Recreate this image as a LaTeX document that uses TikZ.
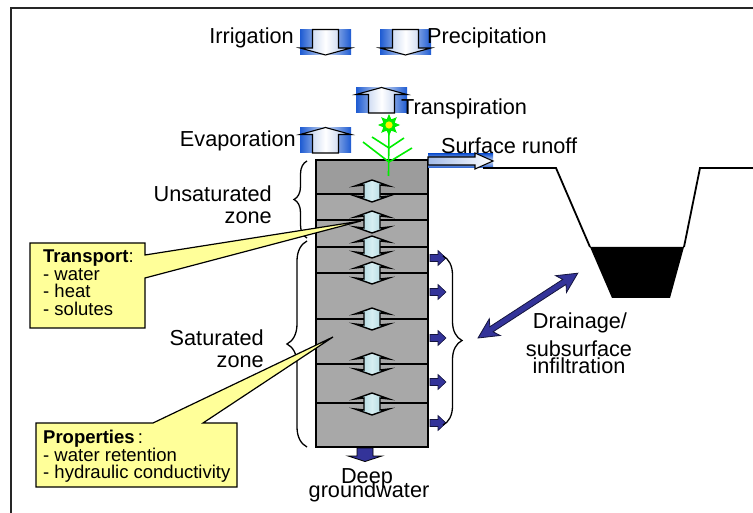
\documentclass[tikz,border=0pt]{standalone}
\usepackage{fontspec}
\setmainfont{Liberation Sans}
\usetikzlibrary{shapes.geometric,decorations.pathreplacing,calc}

\definecolor{fluxblue}{HTML}{1E5BD2}
\definecolor{fluxpale}{HTML}{D4E0F4}
\definecolor{fluxmid}{HTML}{A4BCE8}
\definecolor{soilgrey}{HTML}{A8A8A8}
\definecolor{soiltop}{HTML}{9C9C9C}
\definecolor{poremid}{HTML}{9CCCD6}
\definecolor{porelight}{HTML}{D6EEF2}
\definecolor{navyflow}{HTML}{333399}
\definecolor{notefill}{HTML}{FFFF99}
\definecolor{plantgreen}{HTML}{00EE00}

\tikzset{
  lbl/.style={font=\fontsize{21.7}{22}\selectfont, inner sep=0pt},
  note/.style={font=\fontsize{18.5}{17.5}\selectfont, align=left, inner sep=0pt, anchor=north west},
  callout/.style={draw=black, line width=1.2pt, fill=notefill, line join=miter},
  bracestyle/.style={draw=black, line width=1.3pt},
  % blue boxed block arrow pointing down
  pics/downflux/.style={code={
    \fill[left color=fluxblue, right color=fluxblue, middle color=fluxpale]
      (-25.5,-12.5) rectangle (25.5,12.5);
    \draw[line width=1.1pt, line join=miter, left color=fluxmid, right color=fluxmid, middle color=white]
      (-13,-12.5) -- (-13,6) -- (-25.5,6) -- (0,13) -- (25.5,6) -- (13,6) -- (13,-12.5) -- cycle;
  }},
  % blue boxed block arrow pointing up
  pics/upflux/.style={code={
    \fill[left color=fluxblue, right color=fluxblue, middle color=fluxpale]
      (-25.5,-12.5) rectangle (25.5,12.5);
    \draw[line width=1.1pt, line join=miter, left color=fluxmid, right color=fluxmid, middle color=white]
      (-13,12.5) -- (-13,-6) -- (-25.5,-6) -- (0,-13) -- (25.5,-6) -- (13,-6) -- (13,12.5) -- cycle;
  }},
  % vertical exchange between soil layers
  pics/poreflux/.style={code={
    \draw[line width=1.4pt, line join=miter, left color=poremid, right color=poremid, middle color=porelight]
      (0,-11) -- (17,-5) -- (8,-6) -- (8,6) -- (17,5) -- (0,11) -- (-17,5) -- (-8,6) -- (-8,-6) -- (-17,-5) -- cycle;
  }},
  % lateral outflow from a layer
  pics/seep/.style={code={
    \draw[fill=navyflow, line width=0.6pt, draw=black!60!navyflow, line join=miter]
      (0,-3.5) -- (8,-3.5) -- (8,-7.5) -- (16,0) -- (8,7.5) -- (8,3.5) -- (0,3.5) -- cycle;
  }},
}

\begin{document}
\begin{tikzpicture}[x=1pt, y=-1pt]
\useasboundingbox (0,0) rectangle (753,513);

% frame
\draw[line width=1.6pt, black!85] (11,513) -- (11,8) -- (753,8);

% soil column with layers
\node[draw, line width=1.2pt, fill=soilgrey, minimum width=112pt, minimum height=287pt, inner sep=0pt]
  (column) at (372,303.5) {};
\fill[soiltop] (316,160) rectangle (428,194);
\draw[line width=1.2pt] (316,160) rectangle (428,447);
\foreach \ly in {194,220,247,273,319,364,403}
  \draw[line width=1.1pt] (316,\ly) -- (428,\ly);

% exchange arrows between layers
\foreach \ay in {191,222,247,273,319,364,404}
  \pic at (372,\ay) {poreflux};

% lateral outflows
\foreach \sy in {258,292,338,382,423}
  \pic at (430,\sy) {seep};

% deep percolation
\draw[fill=navyflow, line width=0.8pt, line join=miter]
  (357,448) -- (357,456) -- (348,456) -- (365,461.5) -- (382,456) -- (373,456) -- (373,448) -- cycle;

% atmospheric fluxes
\pic at (325.5,42) {downflux};
\pic at (405.5,42) {downflux};
\pic at (381.5,100.5) {upflux};
\pic at (325.5,140.5) {upflux};

% surface runoff arrow
\fill[top color=fluxblue, bottom color=fluxblue, middle color=fluxpale] (428,154) rectangle (493,168);
\draw[line width=1.1pt, line join=miter, left color=fluxmid, right color=white]
  (428,157) -- (475,157) -- (475,153) -- (493,161) -- (475,169) -- (475,165) -- (428,165) -- cycle;

% ground surface and ditch
\draw[line width=1.8pt] (483,168) -- (556,168) -- (590,247);
\draw[line width=1.8pt] (684,247) -- (700,168) -- (753,168);
\fill[black] (590,247) -- (684,247) -- (670,298) -- (612,298) -- cycle;

% drainage exchange arrow
\begin{scope}[shift={(478,338)}, rotate=33]
  \draw[fill=navyflow, line width=0.8pt, draw=black!60!navyflow, line join=miter]
    (0,0) -- (20,-10) -- (16,-3) -- (103,-3) -- (99,-10) -- (119,0) -- (99,10) -- (103,3) -- (16,3) -- (20,10) -- cycle;
\end{scope}

% plant
\draw[plantgreen, line width=1.6pt] (389,125) -- (388.5,176);
\draw[plantgreen, line width=1.6pt] (363,142) -- (389,162) -- (412,148);
\draw[plantgreen, line width=1.6pt] (372,137) -- (389,148) -- (404,138);
\node[star, star points=8, star point ratio=1.8, fill=plantgreen, minimum size=22pt, inner sep=0pt] (flower) at (389,125) {};
\node[circle, fill=yellow, draw=plantgreen, line width=0.5pt, minimum size=8pt, inner sep=0pt] at (flower.center) {};

% braces
\draw[bracestyle, decorate, decoration={brace, amplitude=13pt}] (307,238) -- (307,161);
\draw[bracestyle, decorate, decoration={brace, amplitude=20pt}] (307,447) -- (307,241);
\draw[bracestyle, decorate, decoration={brace, amplitude=19pt}] (443,256) -- (443,425);

% callouts
\coordinate (transporttip) at (361,221);
\coordinate (propstip) at (333,337);
\draw[callout] (30,243) -- (145,243) -- (145,255) -- (transporttip) -- (145,278) -- (145,328) -- (30,328) -- cycle;
\draw[callout] (36,423) -- (153,423) -- (propstip) -- (203,423) -- (237,423) -- (237,487) -- (36,487) -- cycle;
\node[note] (transport) at (43,250) {\textbf{Transport}:\\- water\\- heat\\- solutes};
\node[note] (props) at (43,430) {\textbf{Properties}\,:\\- water retention\\- hydraulic conductivity};

% labels
\node[lbl, anchor=east] (irr) at (294,38) {Irrigation};
\node[lbl, anchor=west] (prec) at (427,38) {Precipitation};
\node[lbl, anchor=west] (transp) at (401,109) {Transpiration};
\node[lbl, anchor=east] (evap) at (296,141) {Evaporation};
\node[lbl, anchor=west] (runoff) at (441,146) {Surface runoff};
\node[lbl, anchor=east, align=right] (unsat) at (272,205) {Unsaturated\\zone};
\node[lbl, anchor=east, align=right] (sat) at (264,349) {Saturated\\zone};
\node[lbl] (drain) at (580,323) {Drainage/};
\node[lbl] (subsurf) at (579,349) {subsurface};
\node[lbl] (infil) at (579,366) {infiltration};
\node[lbl] (deep) at (367,478) {Deep};
\node[lbl] (groundw) at (369,492) {groundwater};

\end{tikzpicture}
\end{document}
